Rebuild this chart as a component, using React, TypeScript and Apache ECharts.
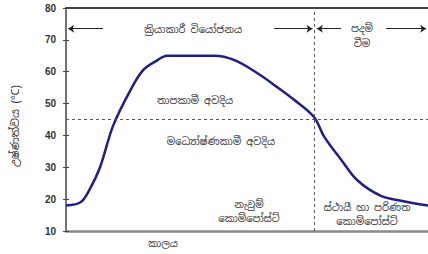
import React, { useEffect, useRef } from "react";
import * as echarts from "echarts";

const timeX = [0, 4, 6.5, 9.4, 13, 17.7, 21.3, 25.1, 27.9, 34, 41, 46.4, 52.8, 58.3, 63, 68.5, 71.3, 76, 80.4, 87, 92.5, 100];
const tempY = [18, 19, 23, 30, 43, 54, 60.5, 63.5, 65, 65, 65, 63.7, 59.6, 55.2, 51.2, 45.8, 39.6, 32.4, 26, 21, 19.5, 18];
const yTicks = [10, 20, 30, 40, 50, 60, 70, 80];
const phaseBoundaryX = 68.5;
const phaseThresholdY = 45;
const arrowY = 73.5;

const yAxisTitle = "උෂ්ණත්වය (°C)";
const xAxisTitle = "කාලය";
const labelActive = "ක්‍රියාකාරී වියෝජනය";
const labelCuring1 = "පදම්";
const labelCuring2 = "වීම";
const labelThermo = "තාපකාමී අවදිය";
const labelMeso = "මධ්‍යෝෂ්ණකාමී අවදිය";
const labelFresh = "නැවුම්\nකොම්පෝස්ට්";
const labelMature = "ස්ථායී හා පරිණත\nකොම්පෝස්ට්";

const SIN_FONT = "'Noto Sans Sinhala', 'Iskoola Pota', 'Noto Sans', sans-serif";

export default function App() {
  const ref = useRef<HTMLDivElement>(null);
  useEffect(() => {
    if (!ref.current) return;
    const chart = echarts.init(ref.current, undefined, { renderer: "svg" });
    const txt = (text: string, x: number, y: number, size = 10) => ({
      type: "text",
      x,
      y,
      style: {
        text,
        fill: "#333",
        font: `${size}px ${SIN_FONT}`,
        align: "center",
        verticalAlign: "middle",
        lineHeight: 14,
      },
    });
    const arrowLine = (x1: number, x2: number, leftArrow: boolean) => [
      { coord: [x1, arrowY], symbol: leftArrow ? "arrow" : "none", symbolSize: 6 },
      { coord: [x2, arrowY], symbol: leftArrow ? "none" : "arrow", symbolSize: 6 },
    ];
    chart.setOption({
      animation: false,
      grid: { left: 66, top: 8, right: 0, bottom: 23 },
      xAxis: [
        {
          type: "value",
          min: 0,
          max: 100,
          axisLine: { show: true, lineStyle: { color: "#8a8a8a", width: 2.5 } },
          axisTick: { show: false },
          axisLabel: { show: false },
          splitLine: { show: false },
        },
        {
          type: "value",
          position: "top",
          min: 0,
          max: 100,
          axisLine: { show: true, lineStyle: { color: "#444", width: 2 } },
          axisTick: { show: false },
          axisLabel: { show: false },
          splitLine: { show: false },
        },
      ],
      yAxis: [
        {
          type: "value",
          min: 10,
          max: 80,
          interval: 10,
          axisLine: { show: true, lineStyle: { color: "#444", width: 1.5 } },
          axisTick: { show: true, length: 3, lineStyle: { color: "#444" } },
          axisLabel: {
            color: "#333",
            fontSize: 10,
            fontWeight: "bold",
            fontFamily: "Liberation Sans, Arial, sans-serif",
            margin: 10,
            formatter: (v: number) => (yTicks.includes(v) ? String(v) : ""),
          },
          splitLine: { show: false },
        },
        {
          type: "value",
          position: "left",
          min: 10,
          max: 80,
          interval: 10,
          axisLine: { show: false },
          axisTick: { show: true, inside: true, length: 3, lineStyle: { color: "#444" } },
          axisLabel: { show: false },
          splitLine: { show: false },
        },
      ],
      series: [
        {
          type: "line",
          data: timeX.map((x, i) => [x, tempY[i]]),
          smooth: 0.35,
          showSymbol: false,
          lineStyle: { color: "#1f1f86", width: 2.5 },
          markLine: {
            silent: true,
            symbol: "none",
            label: { show: false },
            lineStyle: { color: "#555", type: [3, 3], width: 1 },
            data: [
              [{ coord: [0, phaseThresholdY] }, { coord: [100, phaseThresholdY] }],
              [{ coord: [phaseBoundaryX, 10] }, { coord: [phaseBoundaryX, 80] }],
            ],
          },
        },
        {
          type: "line",
          data: [],
          markLine: {
            silent: true,
            label: { show: false },
            lineStyle: { color: "#222", type: "solid", width: 1 },
            data: [
              arrowLine(0.6, 10.2, true),
              arrowLine(57.5, phaseBoundaryX - 0.4, false),
              arrowLine(phaseBoundaryX + 0.8, 76, true),
              arrowLine(88.4, 99.5, false),
            ],
          },
        },
      ],
      graphic: [
        txt(labelActive, 193, 29),
        txt(labelCuring1, 362, 28),
        txt(labelCuring2, 362, 43),
        txt(labelThermo, 195, 100),
        txt(labelMeso, 221, 141),
        txt(labelFresh, 249, 211),
        txt(labelMature, 367, 214),
        txt(xAxisTitle, 163, 243),
        {
          type: "text",
          x: 15,
          y: 126,
          rotation: Math.PI / 2,
          style: {
            text: yAxisTitle,
            fill: "#333",
            font: `11px ${SIN_FONT}`,
            align: "center",
            verticalAlign: "middle",
          },
        },
      ],
    });
    return () => chart.dispose();
  }, []);
  return (
    <div
      ref={ref}
      style={{ position: "fixed", left: 0, top: 0, width: 428, height: 254, background: "#fff" }}
    />
  );
}
